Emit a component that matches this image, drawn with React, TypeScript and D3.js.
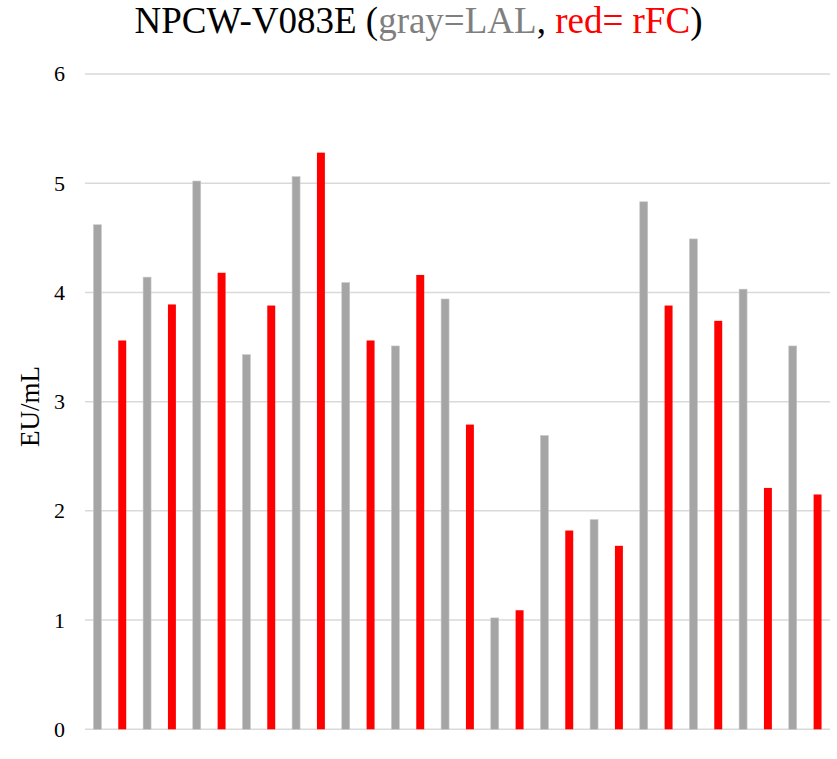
import React from "react";
import * as d3 from "d3";

const categories = Array.from({ length: 30 }, (_, i) => `S${i + 1}`);
const seriesType = ["LAL", "rFC"];
const values = [
  4.62, 3.56, 4.14, 3.89, 5.02, 4.18, 3.43, 3.88, 5.06, 5.28,
  4.09, 3.56, 3.51, 4.16, 3.94, 2.79, 1.02, 1.09, 2.69, 1.82,
  1.92, 1.68, 4.83, 3.88, 4.49, 3.74, 4.03, 2.21, 3.51, 2.15,
];
const yTicks = [0, 1, 2, 3, 4, 5, 6];

const W = 837;
const H = 759;
const left = 85;
const right = 830;
const top = 74;
const bottom = 729.3;

export default function App() {
  const x = d3.scaleBand<string>().domain(categories).range([left, right]).paddingInner(0.68).paddingOuter(0.34);
  const y = d3.scaleLinear().domain([0, 6]).range([bottom, top]);
  const font = "'Liberation Serif', 'Times New Roman', serif";
  return (
    <svg width={W} height={H} style={{ position: "absolute", left: 0, top: 0 }}>
      <rect width={W} height={H} fill="#fff" />
      {yTicks.map((t) => (
        <g key={t}>
          <line x1={left} x2={right} y1={y(t)} y2={y(t)} stroke="#d9d9d9" strokeWidth={1.5} />
          <text x={65} y={y(t)} dy="0.34em" textAnchor="end" fontFamily={font} fontSize={22} fill="#000">
            {t}
          </text>
        </g>
      ))}
      {values.map((v, i) => {
        const isGray = seriesType[i % 2] === "LAL";
        return (
          <rect
            key={i}
            x={x(categories[i])!}
            y={y(v)}
            width={x.bandwidth()}
            height={y(0) - y(v)}
            fill={isGray ? "#a5a5a5" : "#ff0000"}
            stroke={isGray ? "#c8c8c8" : "none"}
            strokeWidth={isGray ? 0.6 : 0}
          />
        );
      })}
      <text
        transform={`translate(38.5,406.5) rotate(-90)`}
        textAnchor="middle"
        fontFamily={font}
        fontSize={27}
        fill="#000"
      >
        EU/mL
      </text>
      <text x={418.5} y={33.3} textAnchor="middle" fontFamily={font} fontSize={37} fill="#000">
        NPCW-V083E (<tspan fill="#7f7f7f">gray=LAL</tspan>, <tspan fill="#ff0000">red= rFC</tspan>)
      </text>
    </svg>
  );
}
